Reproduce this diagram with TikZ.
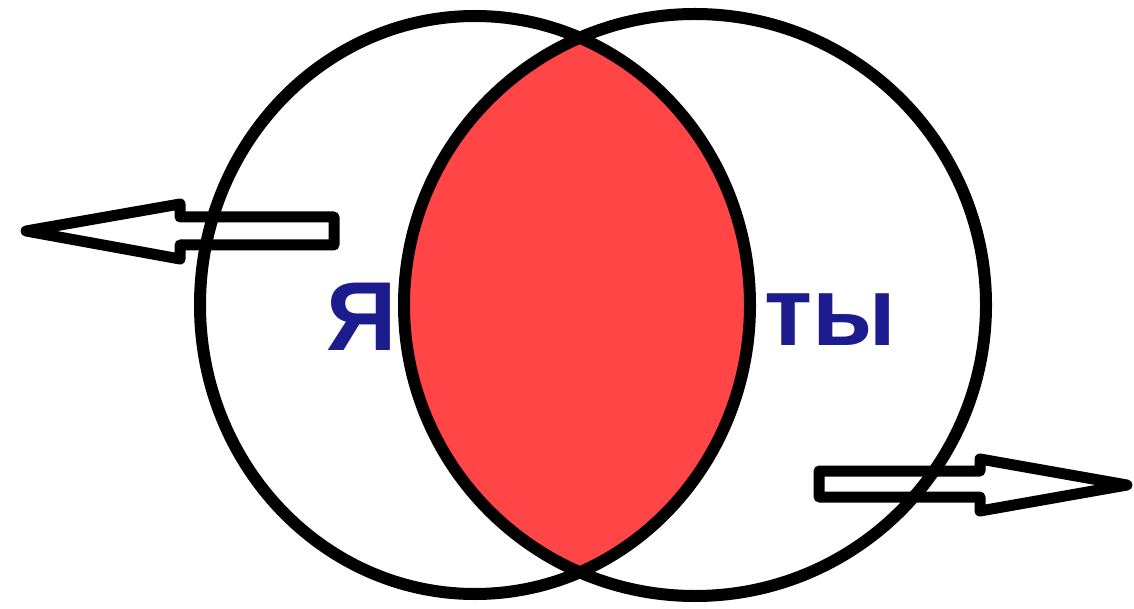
\documentclass[tikz,border=0pt]{standalone}
\usepackage{fontspec}
\setmainfont{Liberation Sans}
\definecolor{lensfill}{HTML}{FF4545}
\definecolor{labelclr}{HTML}{1C1C8E}
\tikzset{
  ring/.style       = {draw=black, line width=12pt},
  lens/.style       = {fill=lensfill},
  blockarrow/.style = {draw=black, line width=11pt, line join=round},
  word/.style       = {font=\fontsize{98}{100}\selectfont\bfseries,
                       text=labelclr, inner sep=0pt, anchor=base west},
}

\begin{document}
\begin{tikzpicture}[x=1pt, y=-1pt]
\useasboundingbox (0,0) rectangle (1134,609);

%% --- the two circles ---------------------------------------------------
\coordinate (me)  at (475,305);
\coordinate (you) at (695,305);

\begin{scope}
  \clip (me) ellipse [x radius=275, y radius=289];
  \fill[lens] (you) circle [radius=291];
\end{scope}
\draw[ring] (me)  ellipse [x radius=275, y radius=289];
\draw[ring] (you) circle [radius=291];

%% --- labels ------------------------------------------------------------
\node[word] (ya) at (326,350) {Я};
\node[word] (ty) at (764,345) {ты};

%% --- arrows pulling apart ----------------------------------------------
\draw[blockarrow] (334,217) -- (180,217) -- (180,204) -- (26,231)
  -- (180,259) -- (180,245) -- (334,245) -- cycle;
\draw[blockarrow] (819,471) -- (980,471) -- (980,459) -- (1127,485)
  -- (980,511) -- (980,497) -- (819,497) -- cycle;

\end{tikzpicture}
\end{document}
